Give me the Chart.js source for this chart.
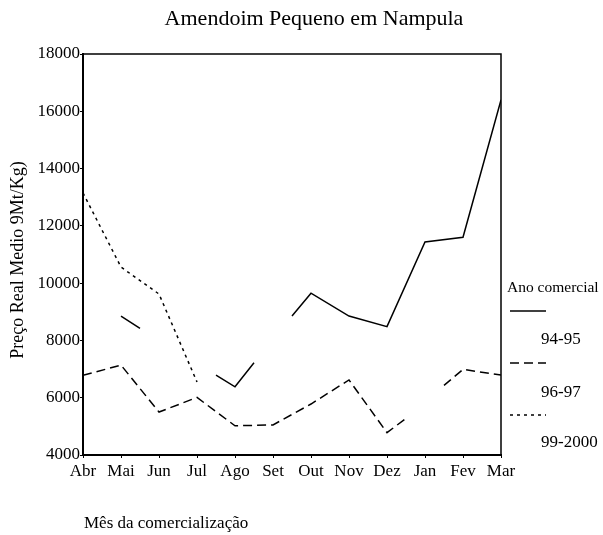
<!DOCTYPE html>
<html>
<head>
<meta charset="utf-8">
<script src="https://cdn.jsdelivr.net/npm/chart.js@4"></script>
<style>
  body { margin: 0; background: #fff; }
  #wrap { width: 603px; height: 535px; }
</style>
</head>
<body>
<div id="wrap"><canvas id="chart" width="603" height="535"></canvas></div>
<script>
// month labels along x
const months = ['Abr', 'Mai', 'Jun', 'Jul', 'Ago', 'Set', 'Out', 'Nov', 'Dez', 'Jan', 'Fev', 'Mar'];

// positions are month indexes; .5 = where a broken line piece ends in the picture
const pos9495 = [1, 1.5, 2, 3.5, 4, 4.5, 5, 5.5, 6, 7, 8, 9, 10, 11];
const val9495 = [8850, 8420, null, 6790, 6380, 7220, null, 8850, 9650, 8850, 8480, 11440, 11600, 16400];

const pos9697 = [0, 1, 2, 3, 4, 5, 6, 7, 8, 8.5, 9, 9.5, 10, 11];
const val9697 = [6780, 7140, 5500, 6010, 5020, 5050, 5780, 6620, 4780, 5280, null, 6430, 6990, 6790];

const pos9900 = [0, 1, 2, 3];
const val9900 = [13150, 10560, 9620, 6550];

const yTicks = [4000, 6000, 8000, 10000, 12000, 14000, 16000, 18000];

const serif = '"Liberation Serif", "DejaVu Serif", serif';

function points(pos, vals) {
    return pos.map((x, i) => ({ x: x, y: vals[i] }));
}

// box, titles and the legend on the right
const decor = {
    id: 'decor',
    beforeDatasetsDraw(chart) {
        const ctx = chart.ctx;
        const a = chart.chartArea;
        ctx.save();
        ctx.strokeStyle = '#000';
        ctx.lineWidth = 1.5;
        ctx.beginPath();
        ctx.moveTo(a.left, a.top);
        ctx.lineTo(a.right, a.top);
        ctx.lineTo(a.right, a.bottom);
        ctx.stroke();
        ctx.restore();
    },
    afterDraw(chart) {
        const ctx = chart.ctx;
        ctx.save();
        ctx.fillStyle = '#000';
        ctx.textBaseline = 'middle';

        ctx.font = '22px ' + serif;
        ctx.textAlign = 'center';
        ctx.fillText('Amendoim Pequeno em Nampula', 314, 19);

        ctx.font = '17px ' + serif;
        ctx.textAlign = 'left';
        ctx.fillText('Mês da comercialização', 84, 524);

        ctx.save();
        ctx.translate(18, 260);
        ctx.rotate(-Math.PI / 2);
        ctx.font = '18px ' + serif;
        ctx.textAlign = 'center';
        ctx.fillText('Preço Real Medio 9Mt/Kg)', 0, 0);
        ctx.restore();

        // legend
        ctx.font = '15.5px ' + serif;
        ctx.textAlign = 'left';
        ctx.fillText('Ano comercial', 507, 288);
        const lineY = [311, 363, 415];
        const textY = [340, 393, 443];
        chart.data.datasets.forEach((ds, i) => {
            ctx.strokeStyle = ds.borderColor;
            ctx.lineWidth = ds.borderWidth;
            ctx.setLineDash(ds.borderDash || []);
            ctx.beginPath();
            ctx.moveTo(510, lineY[i]);
            ctx.lineTo(546, lineY[i]);
            ctx.stroke();
            ctx.setLineDash([]);
            ctx.font = '17px ' + serif;
            ctx.fillText(ds.label, 541, textY[i]);
        });
        ctx.restore();
    }
};

new Chart(document.getElementById('chart'), {
    type: 'line',
    data: {
        datasets: [
            {
                label: '94-95',
                data: points(pos9495, val9495),
                borderColor: '#000',
                borderWidth: 1.5,
                borderDash: []
            },
            {
                label: '96-97',
                data: points(pos9697, val9697),
                borderColor: '#000',
                borderWidth: 1.5,
                borderDash: [9, 5]
            },
            {
                label: '99-2000',
                data: points(pos9900, val9900),
                borderColor: '#000',
                borderWidth: 1.5,
                borderDash: [3, 4]
            }
        ]
    },
    options: {
        responsive: false,
        animation: false,
        spanGaps: false,
        elements: {
            point: { radius: 0 },
            line: { tension: 0 }
        },
        layout: { padding: { top: 54, right: 102, left: 0, bottom: 0 } },
        plugins: {
            legend: { display: false },
            title: { display: false },
            tooltip: { enabled: false }
        },
        scales: {
            x: {
                type: 'linear',
                min: 0,
                max: 11,
                afterFit: s => { s.height = 80; },
                border: { color: '#000', width: 2 },
                grid: { drawOnChartArea: false, tickLength: 3, color: '#000' },
                ticks: {
                    stepSize: 1,
                    autoSkip: false,
                    maxRotation: 0,
                    padding: 3,
                    color: '#000',
                    font: { family: serif, size: 17 },
                    callback: v => months[v]
                }
            },
            y: {
                min: 4000,
                max: 18000,
                afterFit: s => { s.width = 83; },
                afterBuildTicks: s => { s.ticks = yTicks.map(v => ({ value: v })); },
                border: { color: '#000', width: 2 },
                grid: { drawOnChartArea: false, tickLength: 3, color: '#000' },
                ticks: {
                    padding: 0,
                    color: '#000',
                    font: { family: serif, size: 17 },
                    callback: v => String(v)
                }
            }
        }
    },
    plugins: [decor]
});
</script>
</body>
</html>
